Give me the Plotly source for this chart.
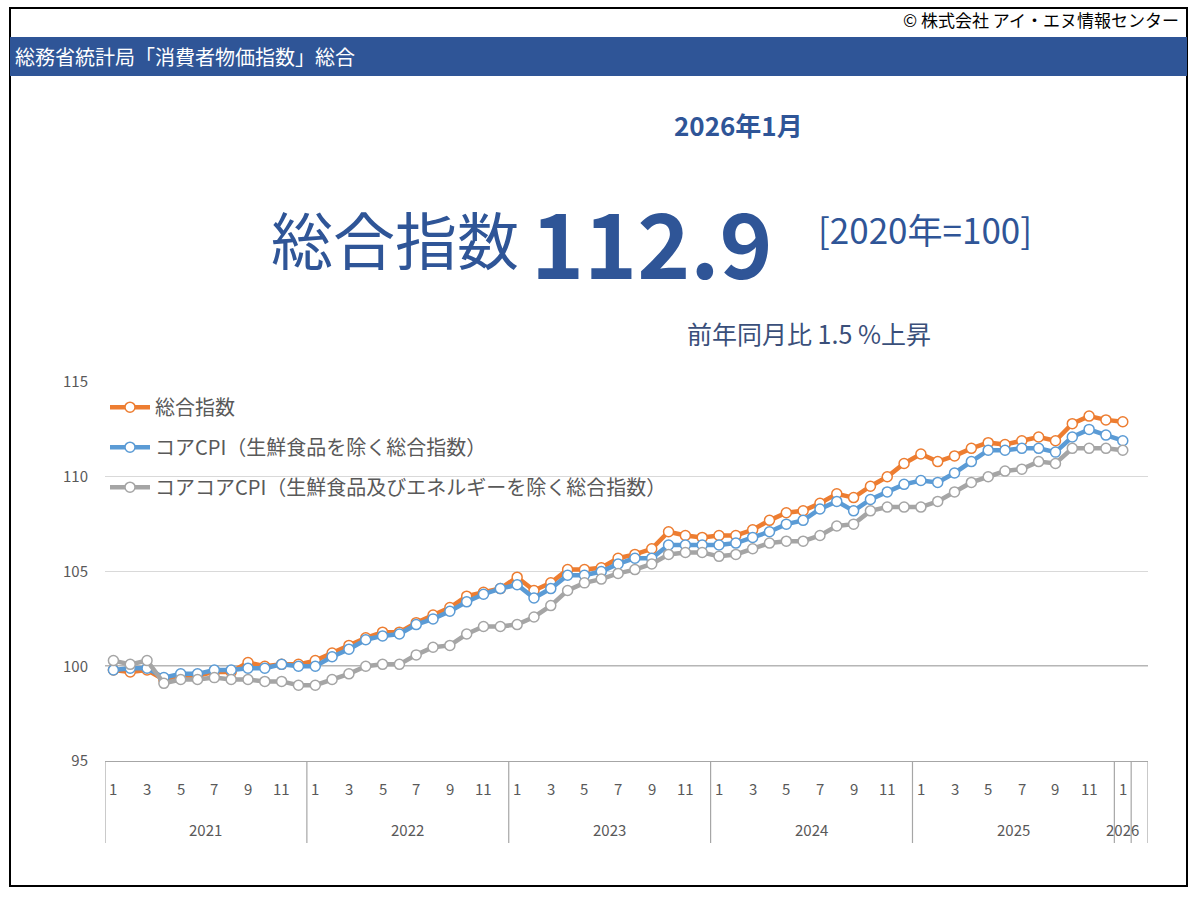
import plotly.graph_objects as go

# ---------------- data ----------------
years = [2021] * 12 + [2022] * 12 + [2023] * 12 + [2024] * 12 + [2025] * 12 + [2026]
months = list(range(1, 13)) * 5 + [1]

headline = [
    99.8, 99.7, 99.8, 99.3, 99.5, 99.5, 99.7, 99.7, 100.2, 100.0, 100.1, 100.1,
    100.3, 100.7, 101.1, 101.5, 101.8, 101.8, 102.3, 102.7, 103.1, 103.7, 103.9, 104.1,
    104.7, 104.0, 104.4, 105.1, 105.1, 105.2, 105.7, 105.9, 106.2, 107.1, 106.9, 106.8,
    106.9, 106.9, 107.2, 107.7, 108.1, 108.2, 108.6, 109.1, 108.9, 109.5, 110.0, 110.7,
    111.2, 110.8, 111.1, 111.5, 111.8, 111.7, 111.9, 112.1, 111.9, 112.8, 113.2, 113.0,
    112.9,
]
core = [
    99.8, 99.9, 99.9, 99.4, 99.6, 99.6, 99.8, 99.8, 99.9, 99.9, 100.1, 100.0,
    100.0, 100.5, 100.9, 101.4, 101.6, 101.7, 102.2, 102.5, 102.9, 103.4, 103.8, 104.1,
    104.3, 103.6, 104.1, 104.8, 104.8, 105.0, 105.4, 105.7, 105.7, 106.4, 106.4, 106.4,
    106.4, 106.5, 106.8, 107.1, 107.5, 107.7, 108.3, 108.7, 108.2, 108.8, 109.2, 109.6,
    109.8, 109.7, 110.2, 110.8, 111.4, 111.4, 111.5, 111.5, 111.3, 112.1, 112.5, 112.2,
    111.9,
]
corecore = [
    100.3, 100.1, 100.3, 99.1, 99.3, 99.3, 99.4, 99.3, 99.3, 99.2, 99.2, 99.0,
    99.0, 99.3, 99.6, 100.0, 100.1, 100.1, 100.6, 101.0, 101.1, 101.7, 102.1, 102.1,
    102.2, 102.6, 103.2, 104.0, 104.4, 104.6, 104.9, 105.1, 105.4, 105.9, 106.0, 106.0,
    105.8, 105.9, 106.2, 106.5, 106.6, 106.6, 106.9, 107.4, 107.5, 108.2, 108.4, 108.4,
    108.4, 108.7, 109.2, 109.7, 110.0, 110.3, 110.4, 110.8, 110.7, 111.5, 111.5, 111.5,
    111.4,
]
series_names = [
    "総合指数",
    "コアCPI（生鮮食品を除く総合指数）",
    "コアコアCPI（生鮮食品及びエネルギーを除く総合指数）",
]
y_ticks = [95, 100, 105, 110, 115]
latest_label = "2026年1月"
latest_value = "112.9"
base_label = "[2020年=100]"
yoy_label = "前年同月比 1.5 %上昇"
page_title = "総務省統計局「消費者物価指数」総合"
copyright_label = "© 株式会社 アイ・エヌ情報センター"

# ---------------- layout helpers ----------------
W, H = 1200, 900
L, R, T, B = 105, 1148, 382, 761
EXTRA = 1  # one empty category slot at the end of the axis


def PX(x):
    return (x - L) / (R - L)


def PY(y):
    return (B - y) / (B - T)


CJK = "Noto Sans CJK JP, Noto Sans, sans-serif"
GRAY = "#595959"
NAVY = "#2F5597"

n = len(headline)
xs = list(range(n))

fig = go.Figure()
colors = ["#ED7D31", "#5B9BD5", "#A5A5A5"]
for name, vals, col in zip(series_names, [headline, core, corecore], colors):
    fig.add_trace(go.Scatter(
        x=xs, y=vals, name=name, mode="lines+markers", legendgroup=name,
        line=dict(color=col, width=4.5),
        marker=dict(symbol="circle", size=10, color="white", line=dict(color=col, width=1.5)),
        hoverinfo="skip",
    ))

shapes = []
annotations = []

# outer frame and header bar
shapes.append(dict(type="rect", xref="paper", yref="paper", x0=PX(10), x1=PX(1187),
                   y0=PY(886), y1=PY(8), line=dict(color="black", width=2), layer="below"))
shapes.append(dict(type="rect", xref="paper", yref="paper", x0=PX(10), x1=PX(1187),
                   y0=PY(76), y1=PY(37), line=dict(width=0), fillcolor=NAVY, layer="below"))

# base line at 100
shapes.append(dict(type="line", xref="paper", yref="y", x0=0, x1=1, y0=100, y1=100,
                   line=dict(color="#6E6E6E", width=1.5), layer="below"))

# category axis boxes: boundaries between years (+ trailing empty slot)
bounds = [-0.5]
for i in range(1, n):
    if years[i] != years[i - 1]:
        bounds.append(i - 0.5)
bounds.append(n - 0.5)
bounds.append(n - 0.5 + EXTRA)
for b in bounds:
    shapes.append(dict(type="line", xref="x", yref="paper", x0=b, x1=b,
                       y0=0, y1=PY(843), line=dict(color="#A6A6A6", width=1.2)))

# month labels (every second category)
for i in range(0, n, 2):
    annotations.append(dict(x=i, y=PY(788), xref="x", yref="paper", text=str(months[i]),
                            showarrow=False, xanchor="center", yanchor="middle",
                            font=dict(family=CJK, size=15, color=GRAY)))
# year labels centred on their groups
for yv in sorted(set(years)):
    idx = [i for i, v in enumerate(years) if v == yv]
    annotations.append(dict(x=(idx[0] + idx[-1]) / 2, y=PY(829), xref="x", yref="paper",
                            text=str(yv), showarrow=False, xanchor="center", yanchor="middle",
                            font=dict(family=CJK, size=15, color=GRAY)))

# header texts
annotations += [
    dict(x=PX(1181), y=PY(19), xref="paper", yref="paper", text=copyright_label,
         showarrow=False, xanchor="right", yanchor="middle",
         font=dict(family=CJK, size=17, color="black")),
    dict(x=PX(13), y=PY(56), xref="paper", yref="paper", text=page_title,
         showarrow=False, xanchor="left", yanchor="middle",
         font=dict(family=CJK, size=20, color="white")),
    dict(x=PX(738), y=PY(124), xref="paper", yref="paper", text=latest_label,
         showarrow=False, xanchor="center", yanchor="middle",
         font=dict(family=CJK, size=26, color=NAVY, weight="bold")),
    dict(x=PX(269), y=PY(238), xref="paper", yref="paper", text="総合指数",
         showarrow=False, xanchor="left", yanchor="middle",
         font=dict(family=CJK, size=62, color=NAVY)),
    dict(x=PX(652), y=PY(240), xref="paper", yref="paper", text=latest_value,
         showarrow=False, xanchor="center", yanchor="middle",
         font=dict(family=CJK, size=90, color=NAVY, weight="bold")),
    dict(x=PX(816), y=PY(228), xref="paper", yref="paper", text=base_label,
         showarrow=False, xanchor="left", yanchor="middle",
         font=dict(family=CJK, size=35, color=NAVY)),
    dict(x=PX(809), y=PY(333), xref="paper", yref="paper", text=yoy_label,
         showarrow=False, xanchor="center", yanchor="middle",
         font=dict(family=CJK, size=25, color="#3A4F7A")),
]

fig.update_layout(
    width=W, height=H,
    margin=dict(l=L, r=W - R, t=T, b=H - B, pad=0),
    paper_bgcolor="white", plot_bgcolor="white",
    showlegend=True,
    legend=dict(x=0.0, y=0.985, xanchor="left", yanchor="top", bgcolor="rgba(0,0,0,0)",
                font=dict(family=CJK, size=20, color=GRAY), tracegroupgap=11,
                itemwidth=40),
    shapes=shapes, annotations=annotations,
)
fig.update_xaxes(range=[-0.5, n - 0.5 + EXTRA], showticklabels=False, showgrid=False,
                 zeroline=False, showline=True, linecolor="#A6A6A6", linewidth=1.2,
                 ticks="", fixedrange=True)
fig.update_yaxes(range=[95, 115], tickvals=y_ticks, showgrid=True, gridcolor="#D9D9D9",
                 gridwidth=1, zeroline=False, showline=False, ticks="",
                 ticklabelstandoff=16,
                 tickfont=dict(family=CJK, size=15, color=GRAY), fixedrange=True)

fig.write_html("out.html", config={"displayModeBar": False},
               post_script="document.body.style.margin='0px';")
